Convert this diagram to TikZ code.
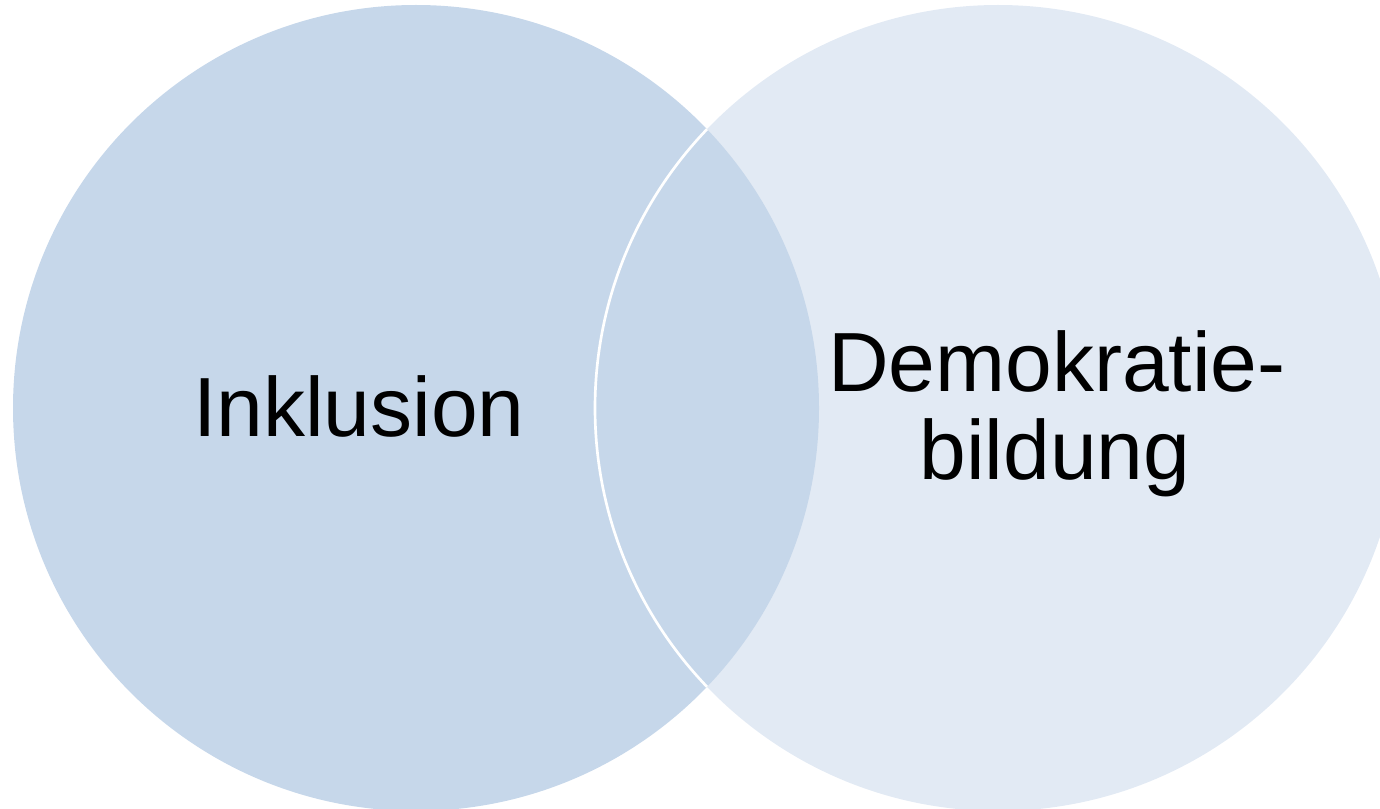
\documentclass[tikz,border=0pt]{standalone}
\usepackage{fontspec}
\setmainfont{Liberation Sans}
\definecolor{leftfill}{HTML}{C6D7EA}
\definecolor{rightfill}{HTML}{E2EAF4}
\begin{document}
\begin{tikzpicture}[x=0.75pt,y=-0.75pt,
  vennlabel/.style={inner sep=0pt,anchor=base,font=\fontsize{63}{66}\selectfont,text=black}]
\useasboundingbox (0,0) rectangle (1380,809);
\fill[rightfill] (998,408) circle[radius=302.25pt];
\fill[leftfill] (416,408) circle[radius=302.25pt];
\begin{scope}
  \clip (416,408) circle[radius=302.25pt];
  \draw[white,line width=2pt] (998,408) circle[radius=302.25pt];
\end{scope}
\node[vennlabel] (inkl) at (359,436) {Inklusion};
\node[vennlabel] (demo) at (1057,391.7) {Demokratie-};
\node[vennlabel] (bild) at (1055,479.3) {bildung};
\end{tikzpicture}
\end{document}
